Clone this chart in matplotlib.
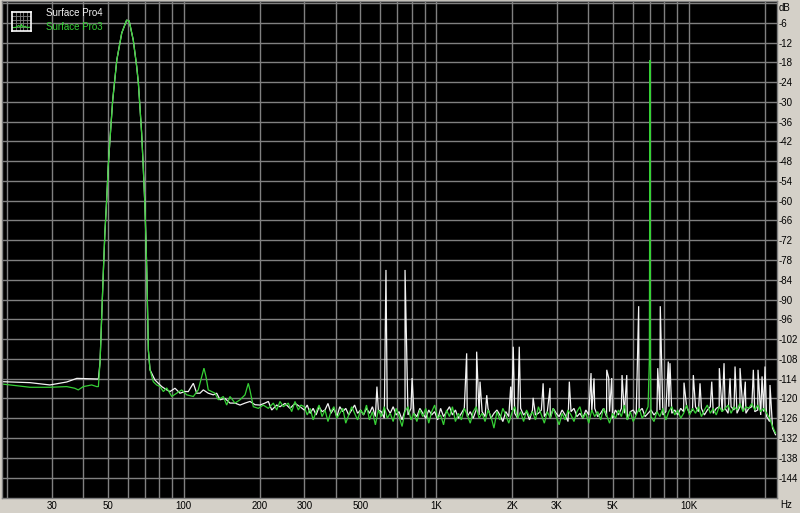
import numpy as np
import matplotlib
matplotlib.use("Agg")
import matplotlib.pyplot as plt
from matplotlib.ticker import NullLocator

# ---------------- data ----------------
series_names = ["Surface Pro4", "Surface Pro3"]

# shared test-tone peak (both devices coincide)
peak_freq = [46.6, 47.3, 48.0, 48.7, 49.5, 50.2, 51.0, 52.3, 54.3, 56.8, 59.4, 60.8,
             63.1, 65.1, 66.1, 68.1, 69.1, 70.2, 71.3, 72.4]
peak_db = [-109.0, -95.2, -82.0, -69.8, -59.8, -49.7, -41.6, -29.5, -17.3, -9.1, -5.2, -5.5,
           -11.3, -19.3, -24.3, -39.5, -49.7, -61.8, -80.0, -105.3]

# Surface Pro4 (white) below / after the tone
pro4_low_freq = [19.0, 24.6, 29.5, 34.4, 37.7, 42.0, 45.2, 45.9]
pro4_low_db = [-114.9, -115.2, -115.9, -115.0, -113.9, -114.0, -114.1, -114.1]
pro4_post_freq = [73.5, 76.9, 79.3, 81.8, 85.6, 88.2, 92.3, 96.6, 101.1, 104.2, 109.1, 112.5,
                  115.9, 119.5, 125.0, 130.9, 135.0, 139.2, 145.6, 152.4, 159.5, 167.0, 174.8,
                  182.9, 191.5, 200.4, 209.7, 216.2, 223.0, 233.4, 240.4, 251.7, 263.4, 275.7, 288.6]
pro4_post_db = [-111.3, -114.4, -115.4, -116.4, -117.4, -117.9, -116.9, -118.4, -117.9, -117.9,
                -115.4, -118.4, -118.4, -117.4, -118.4, -118.9, -118.4, -120.4, -120.0, -121.4,
                -121.4, -122.0, -121.4, -120.9, -121.9, -122.0, -121.4, -120.9, -123.5, -122.0,
                -122.5, -121.5, -123.0, -121.5, -122.5]

# Surface Pro3 (green) below / after the tone
pro3_low_freq = [19.0, 24.6, 29.5, 34.4, 37.0, 38.2, 40.0, 43.2, 45.2, 45.9]
pro3_low_db = [-115.6, -116.6, -116.6, -116.4, -116.9, -117.4, -116.4, -115.9, -116.4, -116.4]
pro3_post_freq = [73.5, 75.7, 78.1, 80.5, 83.0, 85.6, 89.6, 93.8, 98.1, 102.7, 109.1, 114.1,
                  117.8, 120.2, 122.5, 125.0, 129.0, 132.9, 137.0, 143.4, 147.9, 152.4, 159.5,
                  167.0, 174.8, 180.1, 182.9, 188.5, 197.3, 206.4, 216.2, 226.3, 233.4, 240.4,
                  247.8, 259.4, 267.5, 275.7, 284.2, 291.0]
pro3_post_db = [-111.3, -114.9, -115.9, -116.4, -117.9, -116.8, -119.4, -118.4, -117.4, -118.9,
                -119.4, -117.4, -113.4, -110.8, -113.4, -117.4, -117.9, -118.4, -120.4, -119.4,
                -122.0, -119.4, -121.4, -120.4, -118.9, -115.4, -117.5, -122.5, -123.0, -122.0,
                -123.0, -121.4, -123.5, -120.9, -122.5, -121.4, -124.0, -120.9, -123.5, -122.0]

# noise floor 300 Hz .. 22.05 kHz, read at evenly spaced (log) analysis points
noise_freq = np.geomspace(300, 22050, 160)
pro4_noise_db = [
    -123.5, -122.0, -124.5, -123.0, -125.0, -122.5, -124.0, -123.5, -121.5, -124.5,
    -123.0, -125.5, -122.5, -124.0, -123.0, -125.0, -123.5, -122.0, -124.5, -123.5,
    -125.0, -123.0, -124.5, -122.5, -125.5, -123.5, -124.0, -126.0, -123.0, -124.5,
    -122.5, -125.0, -124.0, -126.5, -123.5, -125.0, -123.0, -124.5, -125.5, -123.0,
    -124.5, -126.0, -123.5, -125.0, -124.0, -126.5, -123.0, -125.5, -124.0, -122.5,
    -125.0, -123.5, -126.0, -124.5, -123.0, -125.5, -124.0, -126.0, -123.5, -125.0,
    -124.0, -125.5, -123.0, -126.0, -124.5, -123.5, -125.0, -127.0, -124.0, -125.5,
    -123.5, -124.5, -126.0, -123.0, -125.0, -124.0, -126.5, -123.5, -125.0, -124.5,
    -123.5, -125.5, -124.0, -126.0, -123.0, -124.5, -125.5, -123.5, -125.0, -127.0,
    -124.0, -123.0, -125.5, -124.5, -126.0, -123.5, -125.0, -124.0, -123.0, -125.5,
    -124.5, -123.0, -125.5, -124.0, -126.0, -123.5, -125.0, -123.0, -124.5, -126.5,
    -124.0, -123.5, -125.0, -124.0, -123.0, -125.5, -124.5, -123.5, -125.0, -124.0,
    -123.5, -125.0, -124.0, -122.5, -124.5, -123.5, -125.0, -123.0, -124.0, -122.5,
    -124.5, -123.5, -122.5, -124.0, -123.0, -125.0, -123.5, -122.5, -124.5, -123.0,
    -122.5, -124.0, -123.0, -124.5, -122.5, -123.5, -124.5, -122.5, -123.5, -124.5,
    -123.0, -122.5, -124.0, -123.5, -125.0, -124.0, -125.5, -127.0, -129.0, -131.0]
pro3_noise_db = [
    -122.5, -125.0, -123.0, -126.5, -124.0, -122.0, -125.5, -123.5, -127.0, -124.0,
    -122.5, -126.0, -124.5, -123.0, -127.5, -125.0, -122.5, -124.5, -126.5, -123.5,
    -125.0, -122.0, -126.5, -124.0, -128.0, -123.5, -125.5, -122.5, -126.0, -124.5,
    -127.0, -123.0, -125.5, -128.5, -124.0, -122.5, -126.5, -124.5, -127.0, -123.5,
    -125.5, -123.0, -127.5, -124.0, -122.0, -126.0, -125.0, -128.0, -123.5, -125.5,
    -122.5, -127.0, -124.5, -126.5, -123.0, -125.0, -127.5, -124.0, -122.5, -126.0,
    -124.5, -127.0, -123.5, -125.5, -129.0, -124.0, -126.5, -123.0, -125.0, -127.5,
    -124.5, -122.5, -126.0, -124.0, -127.0, -123.5, -125.5, -124.0, -126.5, -122.5,
    -125.0, -127.5, -124.0, -126.0, -123.0, -125.5, -128.0, -124.5, -126.5, -123.5,
    -125.0, -127.0, -124.0, -122.5, -126.0, -124.5, -127.5, -123.5, -125.5, -124.0,
    -126.5, -123.0, -125.0, -127.5, -124.5, -126.0, -123.5, -125.5, -122.0, -126.5,
    -124.0, -127.0, -125.0, -123.0, -126.0, -124.5, -122.5, -125.5, -127.0, -124.0,
    -125.5, -123.0, -126.5, -124.0, -122.5, -125.0, -123.5, -126.0, -124.5, -122.0,
    -125.0, -123.0, -124.5, -122.5, -125.5, -123.5, -122.0, -124.5, -123.0, -125.0,
    -122.5, -124.0, -123.0, -122.0, -124.5, -122.5, -123.5, -121.5, -124.0, -122.5,
    -123.0, -121.5, -123.5, -122.0, -124.0, -123.0, -124.5, -126.0, -128.5, -130.5]

# discrete spurious tones
pro4_spike_freq = [582, 632, 752, 802, 1319, 1445, 1490, 1584, 1971, 2017, 2131, 2418, 2649,
                   2820, 3364, 4100, 4214, 4731, 4818, 4952, 5440, 5679, 6330, 7532, 7710,
                   8294, 8424, 9572, 10422, 11078, 12326, 13210, 13788, 14566, 15244, 15954,
                   16744, 18012, 18798, 19502, 20036, 20972]
pro4_spike_db = [-116.4, -81.0, -81.0, -113.8, -106.3, -105.8, -114.9, -119.0, -116.4, -104.3,
                 -104.3, -119.8, -115.4, -116.8, -114.9, -112.3, -113.9, -111.3, -113.8, -113.8,
                 -112.9, -112.9, -92.0, -110.8, -92.0, -108.8, -109.3, -115.2, -112.9, -115.4,
                 -114.9, -110.8, -109.3, -113.9, -110.3, -110.8, -114.9, -111.3, -111.3,
                 -113.3, -110.3, -115.9]
pro3_spike_freq = [6980, 7016, 7050]
pro3_spike_db = [-108.0, -17.3, -109.5]

# axis ticks
grid_freqs = [20, 30, 40, 50, 60, 70, 80, 90, 100, 200, 300, 400, 500, 600, 700, 800, 900,
              1000, 2000, 3000, 4000, 5000, 6000, 7000, 8000, 9000, 10000, 20000]
freq_labels = {30: "30", 50: "50", 100: "100", 200: "200", 300: "300", 500: "500",
               1000: "1K", 2000: "2K", 3000: "3K", 5000: "5K", 10000: "10K"}
db_ticks = list(range(-144, 1, 6))

# ---------------- assemble ----------------
def build(parts):
    f = np.concatenate([np.asarray(p[0], float) for p in parts])
    d = np.concatenate([np.asarray(p[1], float) for p in parts])
    o = np.argsort(f, kind="stable")
    return f[o], d[o]

pro4_f, pro4_d = build([(pro4_low_freq, pro4_low_db), (peak_freq, peak_db),
                        (pro4_post_freq, pro4_post_db), (noise_freq, pro4_noise_db),
                        (pro4_spike_freq, pro4_spike_db)])
pro3_f, pro3_d = build([(pro3_low_freq, pro3_low_db), (peak_freq, peak_db),
                        (pro3_post_freq, pro3_post_db), (noise_freq, pro3_noise_db),
                        (pro3_spike_freq, pro3_spike_db)])

# ---------------- figure ----------------
W, H = 800, 513
BG = "#d4d0c8"
GRID = "#808080"
WHITE = "#f2f2f2"
GREEN = "#36d036"
FONT = "Liberation Sans"

fig = plt.figure(figsize=(W / 100, H / 100), dpi=100, facecolor=BG)

def px(l, t, r, b):
    return [l / W, 1 - b / H, (r - l) / W, (b - t) / H]

ax = fig.add_axes(px(2, 1, 777, 498), facecolor="black")
ax.set_xscale("log")
ax.set_xlim(19.06, 22350)
ax.set_ylim(-150.2, 0.6)

ax.set_xticks(grid_freqs)
ax.set_xticklabels([freq_labels.get(f, "") for f in grid_freqs], fontsize=7, family=FONT)
ax.xaxis.set_minor_locator(NullLocator())
ax.set_yticks(db_ticks)
ax.set_yticklabels([str(v) if v != 0 else "" for v in db_ticks], fontsize=7, family=FONT)
ax.yaxis.tick_right()
ax.tick_params(axis="x", length=0, pad=2.5, colors="black")
ax.tick_params(axis="y", length=0, pad=1.2, colors="black")
ax.grid(True, color=GRID, lw=1.0)
ax.set_axisbelow(True)
for s in ax.spines.values():
    s.set_color(GRID)
    s.set_linewidth(1.0)

ax.plot(pro4_f, pro4_d, color=WHITE, lw=0.9, solid_joinstyle="miter")
ax.plot(pro3_f, pro3_d, color=GREEN, lw=0.9, solid_joinstyle="miter")

# unit labels
fig.text(779 / W, 1 - 8 / H, "dB", fontsize=7, family=FONT, ha="left", va="center")
fig.text(780 / W, 1 - 505 / H, "Hz", fontsize=7, family=FONT, ha="left", va="center")

# legend
fig.text(46 / W, 1 - 13.5 / H, series_names[0], fontsize=7, family=FONT, color=WHITE,
         ha="left", va="center")
fig.text(46 / W, 1 - 27 / H, series_names[1], fontsize=7, family=FONT, color=GREEN,
         ha="left", va="center")

# legend icon
icon_grid = [0.2, 0.4, 0.6, 0.8]
icon_trace_x = [0.08, 0.25, 0.35, 0.45, 0.5, 0.58, 0.7, 0.8, 0.92]
icon_trace_y = [0.18, 0.2, 0.3, 0.18, 0.35, 0.2, 0.25, 0.18, 0.2]
iax = fig.add_axes(px(12, 12, 31, 31), facecolor="black")
iax.set_xlim(0, 1)
iax.set_ylim(0, 1)
iax.set_xticks([])
iax.set_yticks([])
for g in icon_grid:
    iax.axhline(g, color=GRID, lw=0.6)
    iax.axvline(g, color=GRID, lw=0.6)
iax.plot(icon_trace_x, icon_trace_y, color=GREEN, lw=0.8)
for s in iax.spines.values():
    s.set_color("white")
    s.set_linewidth(1.2)

fig.savefig("out.png", dpi=100, facecolor=BG)
